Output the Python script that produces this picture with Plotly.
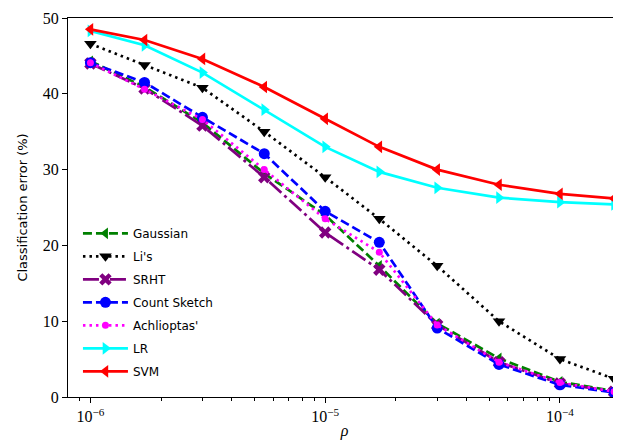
import plotly.graph_objects as go

rho = [1e-6, 1.7e-6, 3e-6, 5.5e-6, 1e-5, 1.7e-5, 3e-5, 5.5e-5, 1e-4, 1.7e-4]
x_tickvals = [1e-6, 1e-5, 1e-4]
x_ticktext = ["10<sup>−6</sup>", "10<sup>−5</sup>", "10<sup>−4</sup>"]
y_tickvals = [0, 10, 20, 30, 40, 50]

gaussian = [44.3, 40.9, 36.2, 29.5, 24.0, 17.3, 9.7, 5.1, 2.0, 0.8]
lis = [46.6, 43.8, 40.8, 35.0, 29.0, 23.5, 17.3, 10.0, 5.0, 2.4]
srht = [44.0, 40.7, 35.8, 29.0, 21.7, 16.8, 9.5, 4.6, 1.8, 0.7]
count_sketch = [44.1, 41.5, 36.9, 32.1, 24.5, 20.4, 9.1, 4.3, 1.6, 0.6]
achlioptas = [44.1, 40.6, 36.6, 30.0, 23.5, 19.1, 9.5, 4.6, 1.9, 0.7]
lr = [48.3, 46.4, 42.8, 37.9, 33.0, 29.7, 27.6, 26.3, 25.7, 25.4]
svm = [48.5, 47.1, 44.6, 40.9, 36.7, 33.0, 30.0, 28.0, 26.8, 26.2]

series = [
    ("Gaussian", gaussian, "green", "9px,4px", "triangle-left", 10),
    ("Li's", lis, "black", "2.5px,4px", "triangle-down", 11),
    ("SRHT", srht, "purple", "16px,4px,3px,4px", "x", 11),
    ("Count Sketch", count_sketch, "blue", "9px,4px", "circle", 11),
    ("Achlioptas'", achlioptas, "magenta", "2.5px,4px", "circle", 7),
    ("LR", lr, "cyan", "solid", "triangle-right", 11),
    ("SVM", svm, "red", "solid", "triangle-left", 11),
]

fig = go.Figure()
for name, ys, color, dash, sym, size in series:
    fig.add_trace(go.Scatter(
        x=rho, y=ys, name=name, mode="lines+markers", legendgroup=name,
        line=dict(color=color, width=2.7, dash=dash),
        marker=dict(symbol=sym, size=size, color=color, line=dict(width=0)),
    ))

serif = "Liberation Serif"
sans = "DejaVu Sans"

# page body has an 8px offset; compensate in size/margins
fig.update_layout(
    width=613, height=432,
    margin=dict(l=60, r=0, t=10, b=41),
    plot_bgcolor="white", paper_bgcolor="white",
    showlegend=True,
    legend=dict(x=0.018, y=0.47, xanchor="left", yanchor="top",
                traceorder="grouped", tracegroupgap=4, itemwidth=45,
                font=dict(family=sans, size=12, color="black"),
                bgcolor="rgba(255,255,255,0)", borderwidth=0),
    font=dict(family=serif, color="black"),
)
fig.update_xaxes(
    type="log", range=[-6.0955, -3.74],
    showline=True, linecolor="black", linewidth=1.2, mirror=True,
    ticks="outside", ticklen=5, tickwidth=1, tickcolor="black",
    tickvals=x_tickvals, ticktext=x_ticktext,
    tickfont=dict(family=serif, size=16),
    minor=dict(ticks="outside", ticklen=3, tickcolor="black", dtick="D1", showgrid=False),
    showgrid=False, zeroline=False,
    title=dict(text="<i>ρ</i>", font=dict(family=serif, size=16), standoff=4),
)
fig.update_yaxes(
    range=[0, 50],
    showline=True, linecolor="black", linewidth=1.2, mirror=False,
    ticks="outside", ticklen=5, tickwidth=1, tickcolor="black",
    tickvals=y_tickvals,
    tickfont=dict(family=serif, size=16),
    showgrid=False, zeroline=False,
    title=dict(text="Classification error (%)", font=dict(family=sans, size=13), standoff=12),
)

fig.write_html("out.html")
